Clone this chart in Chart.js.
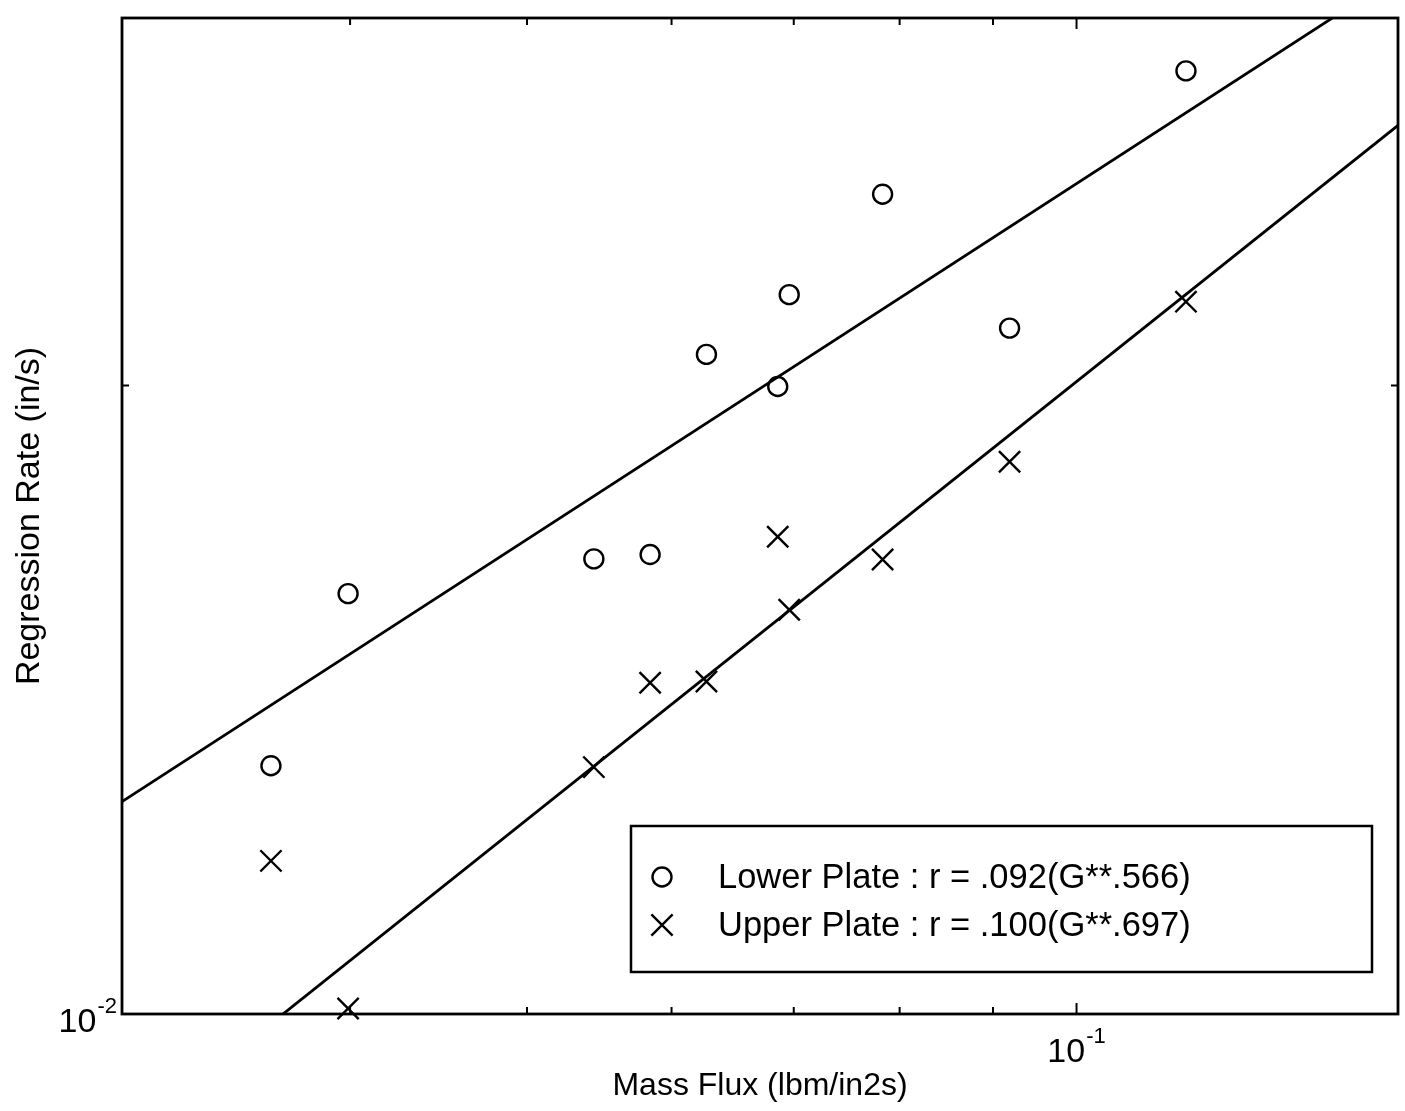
<!DOCTYPE html>
<html>
<head>
<meta charset="utf-8">
<title>Regression Rate vs Mass Flux</title>
<script src="https://cdn.jsdelivr.net/npm/chart.js@4.4.1/dist/chart.umd.min.js"></script>
<style>
  html, body { margin: 0; padding: 0; background: #fff; overflow: hidden; }
  .chart-container { position: relative; width: 1405px; height: 1111px; }
  canvas { display: block; }
</style>
</head>
<body>
<div class="chart-container"><canvas id="myChart" width="1405" height="1111"></canvas></div>
<script>
// Values (lbm/in2s, in/s)
const massFlux = [0.0362, 0.0399, 0.0544, 0.0584, 0.0627, 0.0686, 0.0696, 0.0783, 0.0919, 0.1148];
const lowerPlateRate = [0.01315, 0.0159, 0.01652, 0.0166, 0.0207, 0.01998, 0.02211, 0.0247, 0.02131, 0.0283];
const upperPlateRate = [0.01184, 0.01006, 0.01313, 0.01441, 0.01443, 0.01693, 0.01562, 0.01651, 0.01839, 0.02194];

// Fit lines, ends at the axis limits
const fitFlux = [0.03, 0.15];
const lowerFitRate = [0.01264, 0.03144];
const upperFitRate = [0.00868, 0.02665];

const seriesLabels = ['Lower Plate : r = .092(G**.566)', 'Upper Plate : r = .100(G**.697)'];

// Axis ticks
const xMinorTicks = [0.04, 0.05, 0.06, 0.07, 0.08, 0.09];
const xMajorTicks = [0.1];
const xTickExponents = ['-1'];
const yMinorTicks = [0.02];
const yMajorTicks = [0.01];
const yTickExponents = ['-2'];

const FONT = "'Liberation Sans', Arial, Helvetica, sans-serif";

const toPoints = (xs, ys) => xs.map((x, i) => ({ x: x, y: ys[i] }));

// Frame, inward ticks, 10^n labels and the boxed legend
const matlabAxes = {
  id: 'matlabAxes',
  afterDraw(chart) {
    const { ctx, chartArea: a, scales } = chart;
    const xs = scales.x, ys = scales.y;
    ctx.save();
    ctx.strokeStyle = '#000';
    ctx.fillStyle = '#000';

    // ticks on all four sides
    ctx.lineWidth = 2;
    const tickX = (v, len) => {
      const px = xs.getPixelForValue(v);
      ctx.beginPath();
      ctx.moveTo(px, a.bottom); ctx.lineTo(px, a.bottom - len);
      ctx.moveTo(px, a.top); ctx.lineTo(px, a.top + len);
      ctx.stroke();
    };
    const tickY = (v, len) => {
      const py = ys.getPixelForValue(v);
      ctx.beginPath();
      ctx.moveTo(a.left, py); ctx.lineTo(a.left + len, py);
      ctx.moveTo(a.right, py); ctx.lineTo(a.right - len, py);
      ctx.stroke();
    };
    xMinorTicks.forEach(v => tickX(v, 7));
    xMajorTicks.forEach(v => tickX(v, 11));
    yMinorTicks.forEach(v => tickY(v, 7));
    yMajorTicks.forEach(v => tickY(v, 11));

    // frame
    ctx.lineWidth = 2.8;
    ctx.strokeRect(a.left, a.top, a.right - a.left, a.bottom - a.top);

    // tick labels: 10 with a raised exponent
    const baseFont = '34px ' + FONT;
    const expFont = '22px ' + FONT;
    ctx.textBaseline = 'alphabetic';
    xMajorTicks.forEach((v, i) => {
      const px = xs.getPixelForValue(v);
      ctx.font = baseFont;
      const wBase = ctx.measureText('10').width;
      ctx.font = expFont;
      const wExp = ctx.measureText(xTickExponents[i]).width;
      const left = px - (wBase + wExp + 1) / 2;
      const base = a.bottom + 48;
      ctx.font = baseFont;
      ctx.textAlign = 'left';
      ctx.fillText('10', left, base);
      ctx.font = expFont;
      ctx.fillText(xTickExponents[i], left + wBase + 1, base - 19);
    });
    yMajorTicks.forEach((v, i) => {
      const py = ys.getPixelForValue(v);
      const right = a.left - 5;
      ctx.font = expFont;
      const wExp = ctx.measureText(yTickExponents[i]).width;
      ctx.textAlign = 'right';
      ctx.fillText(yTickExponents[i], right, py - 1);
      ctx.font = baseFont;
      ctx.fillText('10', right - wExp - 1, py + 18);
    });

    // legend box
    const box = { left: 631, top: 826, right: 1372, bottom: 972 };
    ctx.fillStyle = '#fff';
    ctx.fillRect(box.left, box.top, box.right - box.left, box.bottom - box.top);
    ctx.lineWidth = 2.5;
    ctx.strokeRect(box.left, box.top, box.right - box.left, box.bottom - box.top);
    const rows = [877, 925];
    chart.data.datasets.slice(0, 2).forEach((ds, i) => {
      ctx.strokeStyle = '#000';
      ctx.fillStyle = 'rgba(0,0,0,0)';
      ctx.lineWidth = ds.borderWidth;
      Chart.helpers.drawPoint(ctx, {
        pointStyle: ds.pointStyle, radius: ds.pointRadius, rotation: 0, borderWidth: ds.borderWidth
      }, 662, rows[i]);
      ctx.fillStyle = '#000';
      ctx.font = '34.5px ' + FONT;
      ctx.textAlign = 'left';
      ctx.textBaseline = 'middle';
      ctx.fillText(ds.label, 718, rows[i] + 1);
    });
    ctx.restore();
  }
};

const ctx = document.getElementById('myChart').getContext('2d');
const myChart = new Chart(ctx, {
  type: 'scatter',
  data: {
    datasets: [
      {
        label: seriesLabels[0],
        data: toPoints(massFlux, lowerPlateRate),
        pointStyle: 'circle',
        pointRadius: 9.5,
        borderWidth: 2.4,
        borderColor: '#000',
        backgroundColor: 'rgba(0,0,0,0)',
        clip: false
      },
      {
        label: seriesLabels[1],
        data: toPoints(massFlux, upperPlateRate),
        pointStyle: 'crossRot',
        pointRadius: 15,
        borderWidth: 2.4,
        borderColor: '#000',
        backgroundColor: 'rgba(0,0,0,0)',
        clip: false
      },
      {
        type: 'line',
        label: 'lower fit',
        data: toPoints(fitFlux, lowerFitRate),
        borderColor: '#000',
        borderWidth: 2.8,
        pointRadius: 0,
        fill: false,
        tension: 0
      },
      {
        type: 'line',
        label: 'upper fit',
        data: toPoints(fitFlux, upperFitRate),
        borderColor: '#000',
        borderWidth: 2.8,
        pointRadius: 0,
        fill: false,
        tension: 0
      }
    ]
  },
  options: {
    responsive: false,
    animation: false,
    devicePixelRatio: 1,
    layout: { autoPadding: false, padding: { top: 18, right: 7, left: 0, bottom: 0 } },
    plugins: {
      legend: { display: false },
      tooltip: { enabled: false }
    },
    scales: {
      x: {
        type: 'logarithmic',
        min: 0.03,
        max: 0.15,
        grid: { display: false },
        border: { display: false },
        ticks: { display: false },
        title: {
          display: true,
          text: 'Mass Flux (lbm/in2s)',
          color: '#000',
          font: { family: FONT, size: 32 },
          padding: { top: 0, bottom: 6 }
        },
        afterFit: (scale) => { scale.height = 97; }
      },
      y: {
        type: 'logarithmic',
        min: 0.01,
        max: 0.03,
        grid: { display: false },
        border: { display: false },
        ticks: { display: false },
        title: {
          display: true,
          text: 'Regression Rate (in/s)',
          color: '#000',
          font: { family: FONT, size: 34 },
          padding: { top: 9, bottom: 0 }
        },
        afterFit: (scale) => { scale.width = 122; }
      }
    }
  },
  plugins: [matlabAxes]
});
</script>
</body>
</html>
